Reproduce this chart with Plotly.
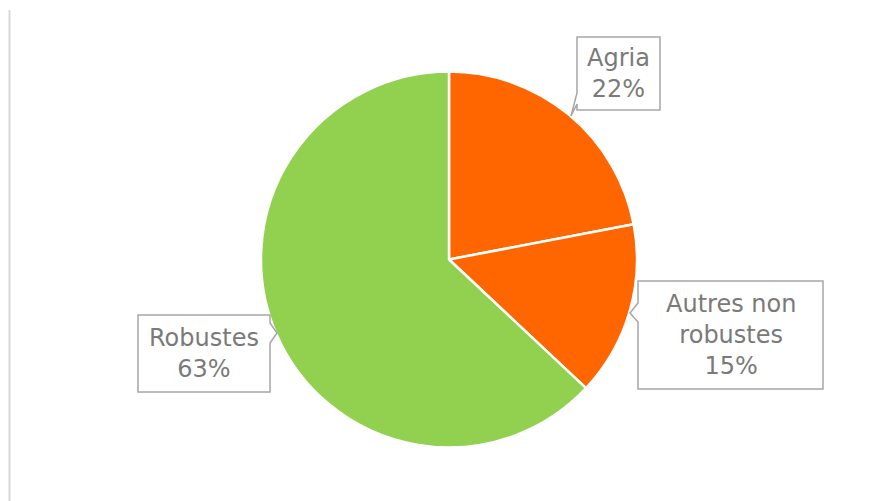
import plotly.graph_objects as go

W, H = 876, 501

labels = ["Agria", "Autres non robustes", "Robustes"]
values = [22, 15, 63]
colors = ["#FF6600", "#FF6600", "#92D050"]
label_texts = ["Agria<br>22%", "Autres non<br>robustes<br>15%", "Robustes<br>63%"]


def px(x):
    return x / W


def py(y):
    return 1 - y / H


fig = go.Figure()
fig.add_trace(go.Pie(
    labels=labels,
    values=values,
    sort=False,
    direction="clockwise",
    rotation=0,
    marker=dict(colors=colors, line=dict(color="white", width=2.5)),
    textinfo="none",
    hoverinfo="label+percent",
    showlegend=False,
    domain=dict(x=[px(261), px(637)], y=[py(447.5), py(71.5)]),
))

# callout boxes (pixel layout)
callouts = [
    dict(box=(577, 37, 660, 110), tail=[(577, 104), (571, 116), (577, 93)], side="left", center=(618.5, 73.5), text=label_texts[0]),
    dict(box=(638, 281, 823, 389), tail=[(638, 322), (630, 313), (638, 303)], side="left", center=(730.5, 335), text=label_texts[1]),
    dict(box=(138, 315, 270, 392), tail=[(270, 323), (277, 333), (270, 343)], side="right", center=(204, 353.5), text=label_texts[2]),
]

shapes = []
annotations = []
for c in callouts:
    x0, y0, x1, y1 = c["box"]
    t = c["tail"]
    if c["side"] == "left":
        pts = [(x0, y0), (x1, y0), (x1, y1), (x0, y1)] + t + [(x0, y0)]
    else:
        pts = [(x0, y0), (x1, y0)] + t + [(x1, y1), (x0, y1), (x0, y0)]
    path = "M " + " L ".join(f"{px(a):.5f},{py(b):.5f}" for a, b in pts) + " Z"
    shapes.append(dict(type="path", xref="paper", yref="paper", path=path,
                       line=dict(color="#A6A6A6", width=1.5), fillcolor="white"))
    annotations.append(dict(x=px(c["center"][0]), y=py(c["center"][1]), xref="paper", yref="paper",
                            text=c["text"], showarrow=False, xanchor="center", yanchor="middle",
                            align="center", font=dict(family="DejaVu Sans", size=24, color="#7A7A7A")))

# left border line
shapes.append(dict(type="line", xref="paper", yref="paper", x0=px(9.5), x1=px(9.5), y0=0, y1=py(10),
                   line=dict(color="#D9D9D9", width=2)))

fig.update_layout(
    width=W, height=H,
    margin=dict(l=0, r=0, t=0, b=0),
    paper_bgcolor="white",
    plot_bgcolor="white",
    shapes=shapes,
    annotations=annotations,
)

fig.write_html("out.html", config={"displayModeBar": False},
               post_script="document.body.style.margin='0';")
